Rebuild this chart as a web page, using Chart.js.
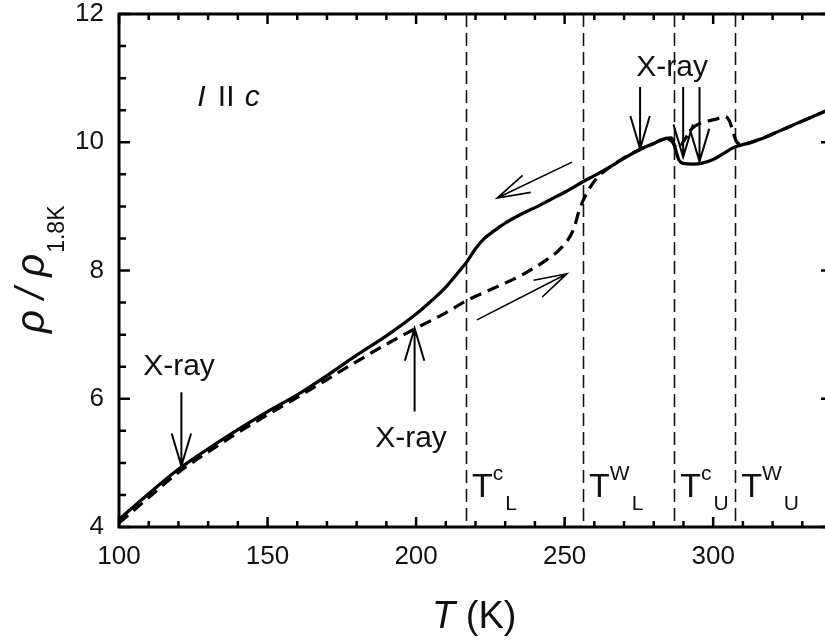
<!DOCTYPE html>
<html>
<head>
<meta charset="utf-8">
<title>Resistivity vs temperature, I || c</title>
<script src="https://cdn.jsdelivr.net/npm/chart.js"></script>
<style>
    html, body { margin: 0; padding: 0; background: #fff; overflow: hidden; }
    #wrap { width: 840px; height: 642px; }
</style>
</head>
<body>
<div id="wrap"><canvas id="rhoChart" width="840" height="642"></canvas></div>
<script>
// Cooling run (solid line), T in K and rho / rho(1.8K)
const coolT = [100, 110, 120, 130, 140, 150, 160, 170, 180, 190, 200, 205, 210, 214, 217, 220, 223, 226, 230, 235, 240, 245, 250, 256, 260, 265, 270, 275, 280, 284, 286, 287.5, 288.5, 290, 293, 296, 300, 304, 307, 312, 316, 322, 328, 334, 340];
const coolRho = [4.12, 4.52, 4.9, 5.22, 5.52, 5.8, 6.06, 6.36, 6.68, 6.98, 7.32, 7.52, 7.74, 7.96, 8.13, 8.34, 8.5, 8.61, 8.74, 8.87, 8.98, 9.1, 9.22, 9.38, 9.48, 9.61, 9.75, 9.88, 9.98, 10.06, 10.07, 9.86, 9.72, 9.67, 9.66, 9.67, 9.73, 9.84, 9.92, 9.99, 10.05, 10.17, 10.29, 10.41, 10.53];

// Warming run (dashed line)
const heatT = [100, 110, 120, 130, 140, 150, 160, 170, 180, 190, 200, 210, 217, 225, 236, 244, 249, 253, 255, 257.6, 261, 264.6, 268, 275, 280, 284, 286, 288, 290.5, 293, 296, 301, 304, 305.5, 306.7, 308, 310, 316, 322, 328, 334, 340];
const heatRho = [4.06, 4.46, 4.85, 5.17, 5.47, 5.75, 6.02, 6.3, 6.58, 6.85, 7.1, 7.34, 7.53, 7.7, 7.94, 8.17, 8.36, 8.64, 8.95, 9.22, 9.45, 9.59, 9.7, 9.88, 9.98, 10.06, 10.02, 9.9, 10.05, 10.22, 10.3, 10.36, 10.4, 10.33, 10.16, 10.0, 9.97, 10.05, 10.17, 10.29, 10.41, 10.53];

// Transition temperatures (vertical dashed lines) and their labels
const transT = [216.8, 256.2, 286.9, 307.4];
const transSup = ["c", "W", "c", "W"];
const transSub = ["L", "L", "U", "U"];

// Axis ticks
const xTickStep = 50;
const yTickStep = 2;

const FONT = "'Liberation Sans', Arial, sans-serif";

function toPoints(xs, ys) {
    return xs.map((x, i) => ({ x: x, y: ys[i] }));
}

// Annotation layout (data units)
const xrayArrows = [
    { t: 121, from: 6.1, to: 4.95 },
    { t: 199.5, from: 5.8, to: 7.1 },
    { t: 275.4, from: 10.86, to: 9.9 },
    { t: 289.9, from: 10.86, to: 9.77 },
    { t: 295.4, from: 10.86, to: 9.7 }
];
const xrayLabels = [
    { t: 120.2, rho: 6.37 },
    { t: 198.3, rho: 5.25 },
    { t: 286.2, rho: 11.03 }
];
const runArrows = [
    { t1: 252.5, r1: 9.69, t2: 227.3, r2: 9.13 },
    { t1: 220.5, r1: 7.23, t2: 250.8, r2: 7.95 }
];

function arrow(ctx, x1, y1, x2, y2, len, ang) {
    const a = Math.atan2(y1 - y2, x1 - x2);
    ctx.beginPath();
    ctx.moveTo(x1, y1);
    ctx.lineTo(x2, y2);
    ctx.moveTo(x2 + len * Math.cos(a + ang), y2 + len * Math.sin(a + ang));
    ctx.lineTo(x2, y2);
    ctx.lineTo(x2 + len * Math.cos(a - ang), y2 + len * Math.sin(a - ang));
    ctx.stroke();
}

const notesPlugin = {
    id: "notes",
    beforeDatasetsDraw(chart) {
        const ctx = chart.ctx;
        const area = chart.chartArea;
        const xs = chart.scales.x;
        ctx.save();
        ctx.strokeStyle = "#111";
        ctx.lineWidth = 1.6;
        ctx.setLineDash([13, 6]);
        transT.forEach(t => {
            const x = Math.round(xs.getPixelForValue(t)) + 0.5;
            ctx.beginPath();
            ctx.moveTo(x, area.top);
            ctx.lineTo(x, area.bottom);
            ctx.stroke();
        });
        ctx.restore();
    },
    afterDatasetsDraw(chart) {
        const ctx = chart.ctx;
        const area = chart.chartArea;
        const xs = chart.scales.x;
        const ys = chart.scales.y;
        ctx.save();

        // frame and inward ticks
        ctx.strokeStyle = "#000";
        ctx.lineWidth = 3;
        ctx.strokeRect(area.left, area.top, area.right - area.left, area.bottom - area.top);
        ctx.lineWidth = 2.5;
        ctx.beginPath();
        for (let t = xs.min; t <= xs.max; t += 10) {
            const x = xs.getPixelForValue(t);
            const len = t % 50 === 0 ? 10 : 6;
            ctx.moveTo(x, area.bottom); ctx.lineTo(x, area.bottom - len);
            ctx.moveTo(x, area.top); ctx.lineTo(x, area.top + len);
        }
        for (let v = ys.min; v <= ys.max; v += 0.5) {
            const y = ys.getPixelForValue(v);
            const len = v % 2 === 0 ? 11 : 7;
            ctx.moveTo(area.left, y); ctx.lineTo(area.left + len, y);
            ctx.moveTo(area.right, y); ctx.lineTo(area.right - len, y);
        }
        ctx.stroke();

        // X-ray arrows and hysteresis arrows
        ctx.lineWidth = 2;
        xrayArrows.forEach(a => {
            const x = xs.getPixelForValue(a.t);
            arrow(ctx, x, ys.getPixelForValue(a.from), x, ys.getPixelForValue(a.to), 34, 0.29);
        });
        ctx.lineWidth = 1.6;
        runArrows.forEach(a => {
            arrow(ctx, xs.getPixelForValue(a.t1), ys.getPixelForValue(a.r1),
                xs.getPixelForValue(a.t2), ys.getPixelForValue(a.r2), 34, 0.28);
        });

        // text
        ctx.fillStyle = "#111";
        ctx.textBaseline = "alphabetic";
        ctx.font = "30px " + FONT;
        ctx.textAlign = "center";
        xrayLabels.forEach(l => {
            ctx.fillText("X-ray", xs.getPixelForValue(l.t), ys.getPixelForValue(l.rho));
        });

        // transition labels T^c_L etc.
        ctx.textAlign = "left";
        transT.forEach((t, i) => {
            const x0 = xs.getPixelForValue(t) + 6;
            const base = area.bottom - 30;
            ctx.font = "34px " + FONT;
            ctx.fillText("T", x0, base);
            const wT = ctx.measureText("T").width;
            ctx.font = "21px " + FONT;
            ctx.fillText(transSup[i], x0 + wT, base - 17);
            const wS = ctx.measureText(transSup[i]).width;
            ctx.fillText(transSub[i], x0 + wT + wS + 2, base + 13);
        });

        // "I || c"
        let cx = xs.getPixelForValue(126.3);
        const cy = ys.getPixelForValue(10.56);
        ctx.font = "italic 30px " + FONT;
        ctx.fillText("I", cx, cy);
        cx += ctx.measureText("I ").width + 4;
        ctx.font = "30px " + FONT;
        ctx.fillText("II", cx, cy);
        cx += ctx.measureText("II ").width + 2;
        ctx.font = "italic 30px " + FONT;
        ctx.fillText("c", cx, cy);

        // x axis title: T (K)
        ctx.font = "italic 38px " + FONT;
        ctx.fillText("T", 432, 628);
        const wTt = ctx.measureText("T ").width;
        ctx.font = "38px " + FONT;
        ctx.fillText("(K)", 432 + wTt, 628);

        // y axis title: rho / rho_1.8K
        ctx.translate(44, 333);
        ctx.rotate(-Math.PI / 2);
        ctx.font = "italic 40px " + FONT;
        ctx.fillText("ρ / ρ", 0, 0);
        const wR = ctx.measureText("ρ / ρ").width;
        ctx.font = "23px " + FONT;
        ctx.fillText("1.8K", wR + 1, 20);

        ctx.restore();
    }
};

new Chart(document.getElementById("rhoChart").getContext("2d"), {
    type: "scatter",
    data: {
        datasets: [
            {
                label: "cooling",
                data: toPoints(coolT, coolRho),
                showLine: true,
                borderColor: "#000",
                borderWidth: 3.2,
                pointRadius: 0,
                cubicInterpolationMode: "monotone"
            },
            {
                label: "warming",
                data: toPoints(heatT, heatRho),
                showLine: true,
                borderColor: "#000",
                borderWidth: 3.2,
                borderDash: [12, 7],
                pointRadius: 0,
                cubicInterpolationMode: "monotone"
            }
        ]
    },
    options: {
        responsive: false,
        devicePixelRatio: 1,
        animation: false,
        layout: { padding: { left: 0, top: 14, right: 8, bottom: 0 } },
        plugins: {
            legend: { display: false },
            tooltip: { enabled: false }
        },
        scales: {
            x: {
                type: "linear",
                min: 100,
                max: 340,
                grid: { display: false, drawTicks: false },
                border: { display: false },
                ticks: {
                    stepSize: xTickStep,
                    includeBounds: false,
                    padding: 14,
                    color: "#111",
                    font: { family: FONT, size: 26 }
                },
                afterFit: s => { s.height = 115; s.paddingLeft = 0; s.paddingRight = 0; }
            },
            y: {
                type: "linear",
                min: 4,
                max: 12,
                grid: { display: false, drawTicks: false },
                border: { display: false },
                ticks: {
                    stepSize: yTickStep,
                    padding: 15,
                    color: "#111",
                    font: { family: FONT, size: 26 }
                },
                afterFit: s => { s.width = 119; s.paddingTop = 0; s.paddingBottom = 0; }
            }
        }
    },
    plugins: [notesPlugin]
});
</script>
</body>
</html>
